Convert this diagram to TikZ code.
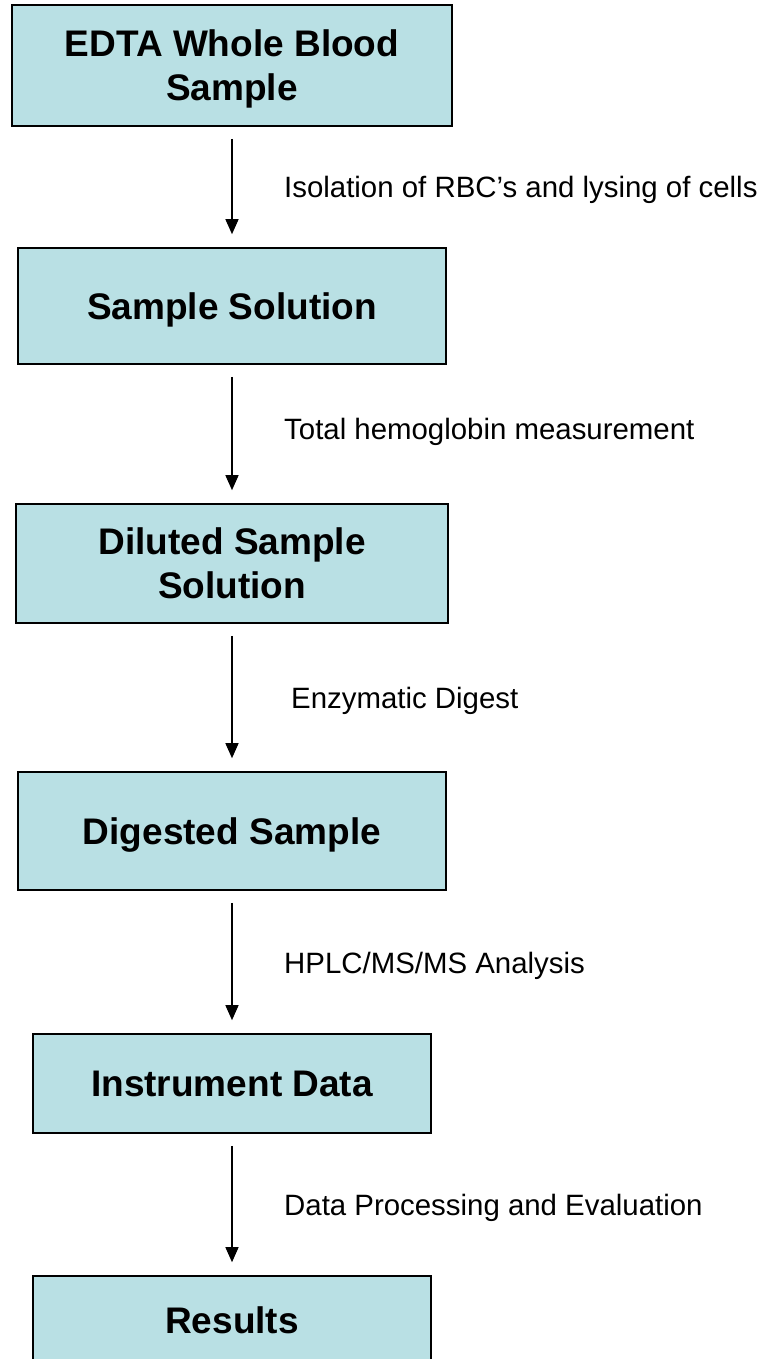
\documentclass[tikz,border=0pt]{standalone}
\usepackage{fontspec}
\setmainfont{Liberation Sans}
\usetikzlibrary{arrows.meta}
\definecolor{boxfill}{RGB}{185,224,228}
\tikzset{
  stage/.style={draw=black, line width=1.6pt, fill=boxfill, align=center,
    inner sep=0pt, text depth=0pt, font=\fontsize{37}{44}\selectfont\bfseries},
  flow/.style={line width=1.3pt, -{Triangle[length=15pt,width=13pt]},
    shorten <=12pt, shorten >=13pt},
  steplabel/.style={anchor=west, inner sep=0pt, font=\fontsize{29.4}{34}\selectfont}
}
\begin{document}
\begin{tikzpicture}[x=1pt,y=-1pt]
\clip (0,0) rectangle (759,1359);
\fill[white] (0,0) rectangle (759,1359);

% process stages
\node[stage, minimum width=440pt, minimum height=121pt] (edta) at (232,65.5) {EDTA Whole Blood\\Sample};
\node[stage, minimum width=428pt, minimum height=116pt] (sol) at (232,306) {Sample Solution};
\node[stage, minimum width=432pt, minimum height=119pt] (dil) at (232,563.5) {Diluted Sample\\Solution};
\node[stage, minimum width=428pt, minimum height=118pt] (dig) at (232,831) {Digested Sample};
\node[stage, minimum width=398pt, minimum height=99pt] (inst) at (232,1083.5) {Instrument Data};
\node[stage, minimum width=398pt, minimum height=88pt] (res) at (232,1320) {Results};

% connectors
\draw[flow] (edta.south) -- (sol.north);
\draw[flow] (sol.south) -- (dil.north);
\draw[flow] (dil.south) -- (dig.north);
\draw[flow] (dig.south) -- (inst.north);
\draw[flow] (inst.south) -- (res.north);

% step descriptions
\node[steplabel] (l1) at (284,190) {Isolation of RBC’s and lysing of cells};
\node[steplabel] (l2) at (284,432) {Total hemoglobin measurement};
\node[steplabel] (l3) at (291,701) {Enzymatic Digest};
\node[steplabel] (l4) at (284,966) {HPLC/MS/MS Analysis};
\node[steplabel] (l5) at (284,1208) {Data Processing and Evaluation};
\end{tikzpicture}
\end{document}
